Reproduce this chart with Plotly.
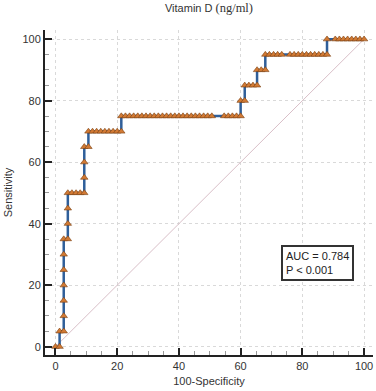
import plotly.graph_objects as go

# ROC curve points (100-Specificity, Sensitivity)
fpr = [0.00, 1.33, 1.33, 2.67, 2.67, 2.67, 2.67, 2.67, 2.67, 2.67,
       4.00, 4.00, 4.00, 4.00, 5.33, 6.67, 8.00, 9.33, 9.33, 9.33, 9.33,
       10.67, 10.67, 12.00, 13.33, 14.67, 16.00, 17.33, 18.67, 20.00, 21.33,
       21.33, 22.67, 24.00, 25.33, 26.67, 28.00, 29.33, 30.67, 32.00, 33.33,
       34.67, 36.00, 37.33, 38.67, 40.00, 41.33, 42.67, 44.00, 45.33, 46.67,
       48.00, 49.33, 50.67, 54.67, 56.00, 57.33, 58.67, 60.00,
       60.00, 61.33, 61.33, 62.67, 64.00, 65.33, 65.33, 66.67, 68.00,
       68.00, 69.33, 70.67, 72.00, 73.33, 76.00, 77.33, 78.67, 80.00, 81.33,
       82.67, 84.00, 85.33, 86.67, 88.00,
       88.00, 90.67, 92.00, 93.33, 94.67, 96.00, 97.33, 98.67, 100.00]
tpr = [0, 0, 5, 5, 10, 15, 20, 25, 30, 35,
       35, 40, 45, 50, 50, 50, 50, 50, 55, 60, 65,
       65, 70, 70, 70, 70, 70, 70, 70, 70, 70,
       75, 75, 75, 75, 75, 75, 75, 75, 75, 75,
       75, 75, 75, 75, 75, 75, 75, 75, 75, 75,
       75, 75, 75, 75, 75, 75, 75, 75,
       80, 80, 85, 85, 85, 85, 90, 90, 90,
       95, 95, 95, 95, 95, 95, 95, 95, 95, 95,
       95, 95, 95, 95, 95,
       100, 100, 100, 100, 100, 100, 100, 100, 100]

diag = [0, 100]
tick_vals = [0, 20, 40, 60, 80, 100]
title_text = "Vitamin D <span style='font-family:Liberation Serif;font-size:12.5px'>(ng/ml)</span>"
x_title = "100-Specificity"
y_title = "Sensitivity"
auc_text = "AUC = 0.784<br>P &lt; 0.001"

fig = go.Figure()
fig.add_trace(go.Scatter(x=diag, y=diag, mode="lines",
                         line=dict(color="#d9bfc8", width=1), showlegend=False))
fig.add_trace(go.Scatter(x=fpr, y=tpr, mode="lines+markers",
                         line=dict(color="#2f5f9a", width=2.5),
                         marker=dict(symbol="triangle-up", size=6.5, color="#d27a34",
                                     line=dict(color="#7a3f10", width=0.6)),
                         showlegend=False))

axis_common = dict(
    tickvals=tick_vals, showgrid=True, gridcolor="#d9d9d9", griddash="dot", gridwidth=1,
    zeroline=False, showline=True, linecolor="#222222", linewidth=2,
    ticks="inside", ticklen=7, tickwidth=1.5, tickcolor="#222222",
    minor=dict(dtick=5, ticks="inside", ticklen=4, tickcolor="#999999", tickwidth=1, showgrid=False),
    tickfont=dict(family="Liberation Sans, Arial", size=11, color="#333333"),
)

fig.update_layout(
    width=376, height=391,
    margin=dict(l=45, r=3, t=29.5, b=36),
    paper_bgcolor="white", plot_bgcolor="white",
    title=dict(text=title_text, x=0.5, xref="paper", xanchor="center",
               y=1 - 8 / 391, yref="container", yanchor="middle",
               font=dict(family="Liberation Sans, Arial", size=11, color="#333333")),
    xaxis=dict(range=[-3.4, 102.9],
               title=dict(text=x_title, standoff=6,
                          font=dict(family="Liberation Sans, Arial", size=11, color="#333333")),
               **axis_common),
    yaxis=dict(range=[-2.7, 103],
               title=dict(text=y_title, standoff=8,
                          font=dict(family="Liberation Sans, Arial", size=11, color="#333333")),
               **axis_common),
    annotations=[dict(x=73, y=33, xref="x", yref="y", xanchor="left", yanchor="top",
                      text=auc_text, showarrow=False, align="left",
                      font=dict(family="Liberation Sans, Arial", size=11, color="#222222"),
                      bordercolor="#333333", borderwidth=2, borderpad=3, bgcolor="white")],
)

fig.write_html("out.html", config={"displayModeBar": False},
               post_script="document.body.style.margin='0';document.body.style.overflow='hidden';")
